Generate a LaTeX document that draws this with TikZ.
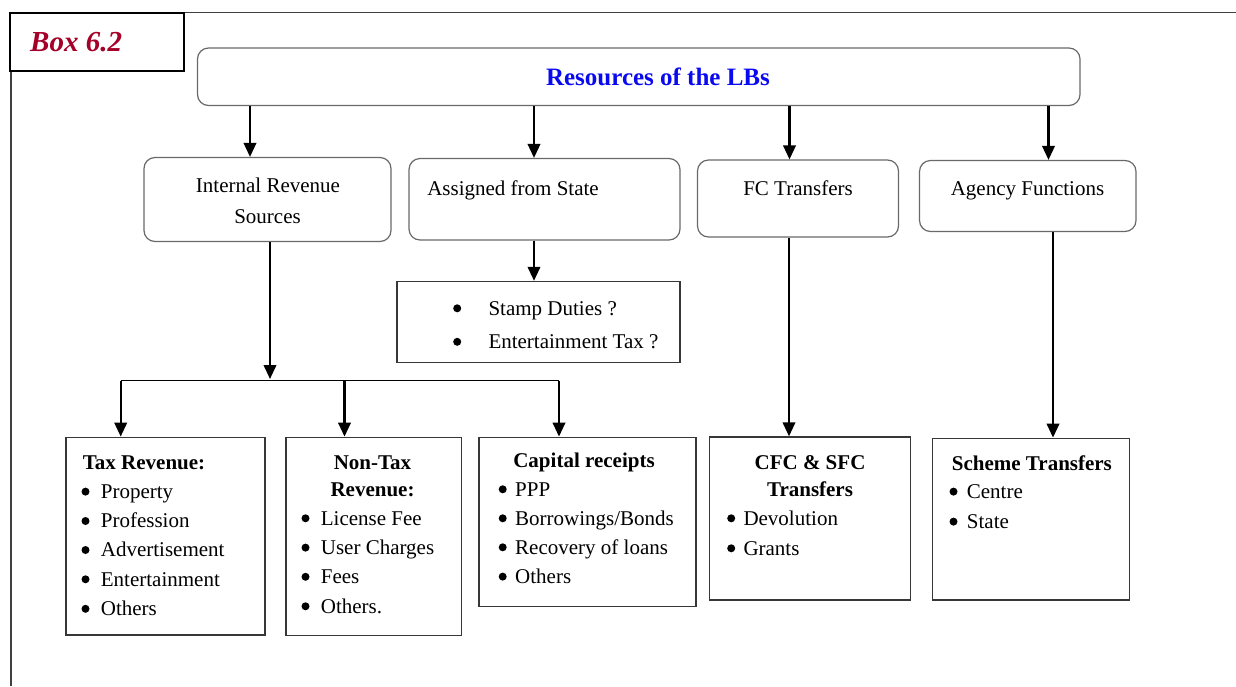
\documentclass[tikz,border=0pt]{standalone}
\usepackage{fontspec}
\setmainfont{Liberation Serif}
\usetikzlibrary{arrows.meta,fit}
\definecolor{boxred}{RGB}{165,0,40}
\definecolor{headblue}{RGB}{10,10,240}
\definecolor{roundedge}{RGB}{105,105,105}
\definecolor{sqedge}{RGB}{55,55,55}
% round bullet set in a box of fixed width, so the item text starts at a set place
\newcommand\bul[1]{\makebox[#1][l]{\tikz[x=1pt,y=1pt,baseline=0pt]\fill[black] (3.7,6.7) circle (4);}}
\begin{document}
\begin{tikzpicture}[x=1pt,y=-1pt,
  rbox/.style={draw=roundedge, line width=1.2pt, rounded corners=11pt, inner sep=0pt},
  sbox/.style={draw=sqedge, line width=1.4pt, inner sep=0pt},
  body/.style={font=\fontsize{21}{25}\selectfont, inner sep=0pt, anchor=base},
  bodyl/.style={body, anchor=base west},
  head/.style={font=\fontsize{21}{25}\selectfont\bfseries, inner sep=0pt, anchor=base},
  headl/.style={head, anchor=base west},
  arr/.style={line width=2.2pt, -{Triangle[length=14pt,width=12.5pt]}},
  bus/.style={line width=1.4pt}]
\useasboundingbox (0,0) rectangle (1236,686);

% outer frame and the box tag
\draw[line width=1.6pt, draw=black!75] (10.7,686) -- (10.7,12.5) -- (1236,12.5);
\node[draw=black, fill=white, line width=2pt, fit={(9.5,12.7)(184,70.7)}, inner sep=0pt] (boxtag) {};
\node[font=\fontsize{29}{32}\selectfont\bfseries\itshape, text=boxred, anchor=base west, inner sep=0pt] (boxlbl) at (30,51) {Box 6.2};

% root
\node[rbox, fit={(197.5,48)(1080,105.5)}] (top) {};
\node[font=\fontsize{25}{30}\selectfont\bfseries, text=headblue, inner sep=0pt, anchor=base] (toptxt) at (658,85.5) {Resources of the LBs};

% second row
\node[rbox, fit={(144,157.5)(391,241.5)}] (irs) {};
\node[body] (irs1) at (268,192) {Internal Revenue};
\node[body] (irs2) at (267.5,223) {Sources};
\node[rbox, fit={(409,158.5)(680,240)}] (asg) {};
\node[body] (asgt) at (513,195) {Assigned from State};
\node[rbox, fit={(697.5,160)(898.5,237)}] (fct) {};
\node[body] (fctt) at (798,195) {FC Transfers};
\node[rbox, fit={(919.5,160.5)(1136,231.5)}] (agf) {};
\node[body] (agft) at (1027.5,195) {Agency Functions};

% x positions of the vertical connectors
\coordinate (xa) at (250,0);
\coordinate (xb) at (534,0);
\coordinate (xc) at (789.5,0);
\coordinate (xd) at (1048.5,0);
\coordinate (xf) at (789,0);
\coordinate (xg) at (1053,0);
\coordinate (xn) at (344.5,0);

\draw[arr] (top.south -| xa) -- (irs.north -| xa);
\draw[arr] (top.south -| xb) -- (asg.north -| xb);
\draw[arr] (top.south -| xc) -- (fct.north -| xc);
\draw[arr] (top.south -| xd) -- (agf.north -| xd);

% assigned taxes
\node[sbox, fit={(397,281.5)(680,362.5)}] (stp) {};
\node[bodyl] (stp1) at (453,315) {\bul{35.3pt}Stamp Duties ?};
\node[bodyl] (stp2) at (453,348.5) {\bul{35.3pt}Entertainment Tax ?};
\draw[arr] (asg.south -| xb) -- (stp.north -| xb);

% bottom row
\node[sbox, fit={(66,437.3)(265,635)}] (tax) {};
\node[sbox, fit={(286,437.3)(461.5,635.5)}] (ntx) {};
\node[sbox, fit={(479,437.3)(696,606.5)}] (cap) {};
\node[sbox, fit={(709.5,437)(910.5,600)}] (cfc) {};
\node[sbox, fit={(932.5,438.3)(1129.5,600)}] (sch) {};

% internal revenue branches
\coordinate (trunk) at (270,379);
\coordinate (busL) at (120.7,380.7);
\coordinate (busR) at (559,380.7);
\draw[arr] (irs.south -| trunk) -- (trunk);
\draw[bus] (busL) -- (busR);
\draw[arr] (busL) -- (tax.north -| busL);
\draw[arr] (busL -| xn) -- (ntx.north -| xn);
\draw[arr] (busR) -- (cap.north -| busR);

% transfers
\draw[arr] (fct.south -| xf) -- (cfc.north -| xf);
\draw[arr] (agf.south -| xg) -- (sch.north -| xg);

% Tax Revenue
\node[headl] (tax0) at (82.7,469.3) {Tax Revenue:};
\node[bodyl] (tax1) at (81.3,498.3) {\bul{19.4pt}Property};
\node[bodyl] (tax2) at (81.3,527.7) {\bul{19.4pt}Profession};
\node[bodyl] (tax3) at (81.3,556.7) {\bul{19.4pt}Advertisement};
\node[bodyl] (tax4) at (81.3,586) {\bul{19.4pt}Entertainment};
\node[bodyl] (tax5) at (81.3,615.5) {\bul{19.4pt}Others};

% Non-Tax Revenue
\node[head] (ntx0) at (372.5,469.3) {Non-Tax};
\node[head] (ntx0b) at (372.5,496.7) {Revenue:};
\node[bodyl] (ntx1) at (301.3,525) {\bul{19.4pt}License Fee};
\node[bodyl] (ntx2) at (301.3,554.3) {\bul{19.4pt}User Charges};
\node[bodyl] (ntx3) at (301.3,583.5) {\bul{19.4pt}Fees};
\node[bodyl] (ntx4) at (301.3,613) {\bul{19.4pt}Others.};

% Capital receipts
\node[head] (cap0) at (584,467.5) {Capital receipts};
\node[bodyl] (cap1) at (498.5,496) {\bul{16.5pt}PPP};
\node[bodyl] (cap2) at (498.5,525) {\bul{16.5pt}Borrowings/Bonds};
\node[bodyl] (cap3) at (498.5,554) {\bul{16.5pt}Recovery of loans};
\node[bodyl] (cap4) at (498.5,583.3) {\bul{16.5pt}Others};

% CFC & SFC Transfers
\node[head] (cfc0) at (810,469.3) {CFC \& SFC};
\node[head] (cfc0b) at (810,496.7) {Transfers};
\node[bodyl] (cfc1) at (727,525) {\bul{16.3pt}Devolution};
\node[bodyl] (cfc2) at (727,555) {\bul{16.3pt}Grants};

% Scheme Transfers
\node[headl] (sch0) at (951.7,470) {Scheme Transfers};
\node[bodyl] (sch1) at (949.3,498.3) {\bul{17.4pt}Centre};
\node[bodyl] (sch2) at (949.3,528.3) {\bul{17.4pt}State};
\end{tikzpicture}
\end{document}
